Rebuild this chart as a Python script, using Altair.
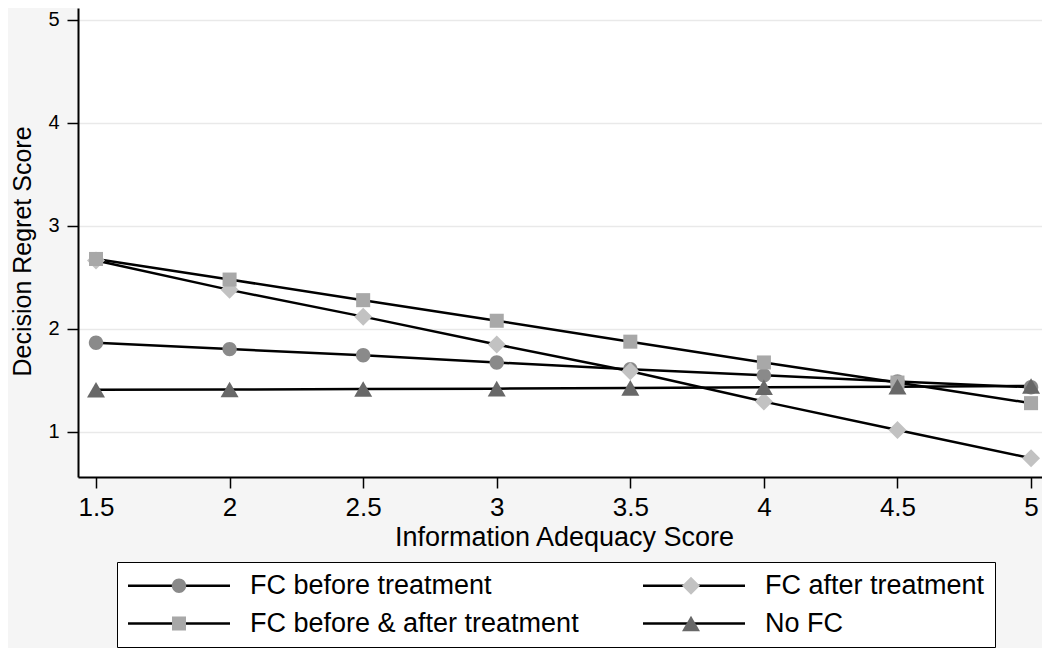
import altair as alt
import pandas as pd

# ---- data ----
x_vals = [1.5, 2, 2.5, 3, 3.5, 4, 4.5, 5]
series_names = ["FC before treatment", "FC after treatment",
                "FC before & after treatment", "No FC"]
fc_before = [1.867, 1.805, 1.745, 1.675, 1.61, 1.55, 1.49, 1.435]
fc_after = [2.665, 2.38, 2.12, 1.85, 1.59, 1.295, 1.02, 0.745]
fc_both = [2.68, 2.48, 2.28, 2.08, 1.877, 1.675, 1.48, 1.28]
no_fc = [1.41, 1.413, 1.417, 1.421, 1.428, 1.434, 1.44, 1.447]
x_ticks = [1.5, 2, 2.5, 3, 3.5, 4, 4.5, 5]
y_ticks = [1, 2, 3, 4, 5]

# marker styles (paths in the unit square, all drawn at one common size)
marker_fill = ["#8a8a8a", "#c2c2c2", "#a8a8a8", "#686868"]
marker_shape = [
    "M-0.8,0A0.8,0.8,0,1,1,0.8,0A0.8,0.8,0,1,1,-0.8,0Z",   # circle
    "M-1,0L0,-1L1,0L0,1Z",                                  # diamond
    "M-0.78,-0.78H0.78V0.78H-0.78Z",                        # square
    "M0,-0.866L1,0.866L-1,0.866Z",                          # triangle
]
MARK_SIZE = 324

rows = []
for name, vals in zip(series_names, [fc_before, fc_after, fc_both, no_fc]):
    for xv, yv in zip(x_vals, vals):
        rows.append({"ia": xv, "dr": yv, "series": name, "line_series": name})
df = pd.DataFrame(rows)

FONT = "Liberation Sans"

xscale = alt.Scale(domain=[1.4326, 5.041], nice=False, zero=False)
yscale = alt.Scale(domain=[0.5631, 5.1165], nice=False, zero=False)

xaxis = alt.Axis(values=x_ticks, format="~g", title="Information Adequacy Score",
                 grid=False, tickSize=11, tickWidth=1.5, tickColor="black",
                 domainColor="black", domainWidth=2,
                 labelFont=FONT, labelFontSize=26, labelColor="black",
                 labelBaseline="alphabetic", labelPadding=27, labelFlush=False,
                 titleFont=FONT, titleFontSize=27, titleFontWeight="normal",
                 titleColor="black", titleBaseline="alphabetic",
                 titleX=486, titleY=68, titleAlign="center")
yaxis = alt.Axis(values=y_ticks, format="d", title="Decision Regret Score",
                 grid=True, gridColor="#e9e9e9", gridWidth=1.5,
                 tickSize=11, tickWidth=1.5, tickColor="black",
                 domainColor="black", domainWidth=2,
                 labelFont=FONT, labelFontSize=20, labelColor="black",
                 labelPadding=8,
                 titleFont=FONT, titleFontSize=25, titleFontWeight="normal",
                 titleColor="black", titleBaseline="alphabetic",
                 titleX=-47.5, titleY=243, titleAngle=270, titleAlign="center")

# legend 1: black line samples and the visible labels (with the box)
legend_lines = alt.Legend(
    title=None, orient="none", legendX=39, legendY=554, columns=2,
    direction="horizontal",
    symbolType="M-1.25,0H8.95", symbolSize=400, symbolStrokeWidth=2.5,
    symbolStrokeColor="black",
    labelFont=FONT, labelFontSize=27, labelColor="black", labelLimit=700,
    labelOffset=96, columnPadding=59, rowPadding=10, padding=10,
    strokeColor="black", fillColor="white")

# legend 2: the markers, drawn on top of the line samples (no labels)
legend_marks = alt.Legend(
    title=None, orient="none", legendX=77.5, legendY=554, columns=2,
    direction="horizontal",
    symbolStrokeWidth=0, symbolSize=MARK_SIZE,
    labelFont=FONT, labelFontSize=27, labelColor="black", labelLimit=700,
    labelExpr="''", labelOffset=0, columnPadding=485, rowPadding=10,
    padding=10)

lines = alt.Chart(df).mark_line(strokeWidth=2.5).encode(
    x=alt.X("ia:Q", scale=xscale, axis=xaxis),
    y=alt.Y("dr:Q", scale=yscale, axis=yaxis),
    color=alt.Color("line_series:N", sort=series_names,
                    scale=alt.Scale(range=["black"] * 4), legend=legend_lines),
)

points = alt.Chart(df).mark_point(filled=True, opacity=1, strokeWidth=0,
                                  size=MARK_SIZE).encode(
    x=alt.X("ia:Q", scale=xscale, axis=xaxis),
    y=alt.Y("dr:Q", scale=yscale, axis=yaxis),
    fill=alt.Fill("series:N", scale=alt.Scale(domain=series_names, range=marker_fill),
                  legend=legend_marks),
    shape=alt.Shape("series:N", scale=alt.Scale(domain=series_names, range=marker_shape),
                    legend=legend_marks),
)

chart = alt.layer(lines, points).properties(
    width=964, height=469,
    padding={"left": 70, "top": 0, "right": 0, "bottom": 171},
    autosize=alt.AutoSizeParams(type="none"),
    background="#f5f5f5",
).configure_view(stroke=None, fill="white")

chart.save("out.html", embed_options={"renderer": "svg", "actions": False})
